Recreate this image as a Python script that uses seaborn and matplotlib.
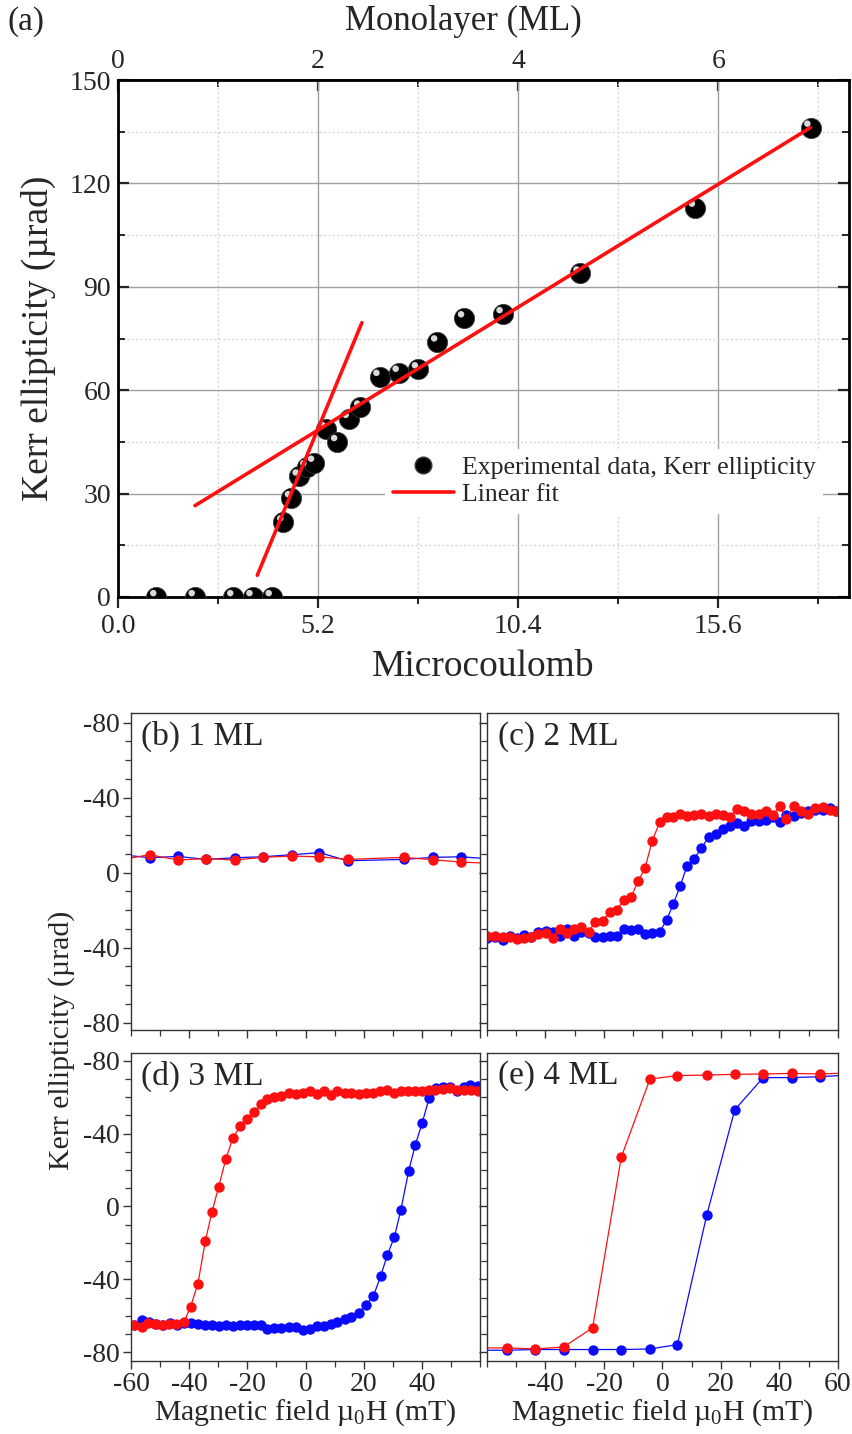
import numpy as np
import pandas as pd
import matplotlib
matplotlib.use("Agg")
import matplotlib.pyplot as plt
import seaborn as sns
from matplotlib import transforms
from matplotlib.ticker import MultipleLocator, FixedLocator
from matplotlib.lines import Line2D

sns.set_theme(style="white")
plt.rcParams['font.family'] = ['Liberation Serif', 'DejaVu Serif']
plt.rcParams['mathtext.fontset'] = 'custom'
plt.rcParams['mathtext.rm'] = 'Liberation Serif'
plt.rcParams['mathtext.default'] = 'regular'
plt.rcParams['axes.unicode_minus'] = False

# ---------------- Panel (a) data ----------------
charge_uC = [1.0, 2.0, 3.0, 3.5, 4.0, 4.3, 4.5, 4.7, 4.9, 5.1, 5.4, 5.7, 6.0, 6.3,
             6.8, 7.3, 7.8, 8.3, 9.0, 10.0, 12.0, 15.0, 18.0]
kerr_urad = [0, 0, 0, 0, 0, 21.7, 28.7, 35.0, 37.7, 39.0, 48.7, 45.0, 51.7, 55.0,
             63.9, 65.1, 66.1, 73.9, 80.9, 82.1, 93.9, 113.0, 136.2]
fit_steep_x = [3.62, 6.34]
fit_steep_y = [6.3, 79.6]
fit_shallow_x = [2.0, 18.0]
fit_shallow_y = [26.5, 136.2]

# ---------------- Panel (b) 1 ML ----------------
b_blue_x = [-63.3, -53.6, -43.9, -34.1, -24.3, -14.7, -4.8, 4.8, 14.5, 33.9, 43.8, 53.5, 63.2]
b_blue_y = [9.6, 8.0, 8.7, 7.1, 8.0, 8.5, 9.6, 10.7, 6.4, 7.1, 8.2, 8.5, 7.4]
b_red_x = [-63.3, -53.6, -43.9, -34.1, -24.3, -14.7, -4.8, 4.8, 14.5, 33.9, 43.8, 53.5, 63.2]
b_red_y = [7.0, 9.6, 6.8, 7.5, 6.8, 8.2, 8.9, 8.5, 7.1, 8.2, 6.9, 5.7, 5.0]

# ---------------- Panel (c) 2 ML ----------------
c_x = [-60.0, -57.2, -54.6, -52.3, -49.7, -47.5, -45.0, -42.4, -39.9, -37.4,
       -35.2, -32.6, -30.1, -27.7, -25.2, -23.0, -20.5, -18.1, -15.7, -13.2,
       -10.7, -8.3, -6.0, -3.5, -1.0, 1.4, 3.7, 6.1, 8.4, 10.8,
       13.3, 15.8, 18.2, 20.7, 23.2, 25.5, 28.0, 30.4, 32.9, 35.4,
       37.8, 40.2, 42.3, 44.8, 47.4, 49.8, 52.3, 54.8, 57.2, 59.4]
c_red_y = [-33.8, -33.8, -34.1, -34.5, -35.6, -35.0, -34.1, -32.9, -32.0, -34.7,
           -30.0, -32.4, -29.9, -29.2, -31.6, -26.1, -25.8, -21.0, -19.9, -14.6,
           -12.8, -4.3, 2.3, 17.1, 26.8, 29.9, 29.5, 31.3, 30.4, 30.8,
           31.1, 30.2, 31.3, 30.8, 29.7, 34.1, 32.9, 31.1, 31.3, 33.1,
           30.8, 35.4, 28.4, 35.6, 33.1, 31.3, 34.7, 34.8, 33.4, 33.1]
c_blue_y = [-35.0, -34.1, -35.9, -33.6, -35.0, -33.2, -34.5, -31.8, -30.9, -31.5,
            -33.8, -30.2, -33.6, -31.8, -32.4, -34.1, -34.1, -33.8, -33.6, -30.2,
            -30.6, -30.2, -32.7, -32.0, -31.8, -25.2, -16.7, -6.9, 3.7, 7.5,
            13.0, 19.2, 20.4, 23.1, 25.1, 26.3, 24.9, 27.6, 27.6, 28.1,
            29.5, 27.2, 30.8, 30.2, 32.0, 33.1, 33.4, 33.4, 34.3, 33.1]

# ---------------- Panel (d) 3 ML ----------------
d_red_x = [-58.9, -56.3, -54.3, -51.7, -49.2, -46.9, -44.4, -41.8, -39.5, -37.0,
           -34.4, -32.2, -29.9, -27.4, -25.0, -22.5, -20.0, -17.6, -15.3, -13.1,
           -10.8, -8.3, -5.8, -3.4, -0.9, 1.4, 4.0, 6.3, 8.8, 11.0,
           13.5, 15.8, 18.4, 20.7, 23.3, 25.6, 28.1, 30.3, 32.8, 35.1,
           37.7, 40.0, 42.3, 44.5, 47.2, 49.7, 52.2, 54.4, 57.0, 59.3]
d_red_y = [-64.9, -66.4, -64.0, -64.6, -64.9, -64.4, -64.6, -63.6, -54.9, -42.4,
           -18.7, -3.3, 10.6, 26.0, 37.5, 43.9, 47.9, 52.1, 56.3, 58.9,
           60.3, 60.7, 62.5, 61.8, 62.2, 63.1, 61.8, 63.6, 61.3, 63.6,
           62.2, 62.2, 61.6, 62.5, 62.5, 63.6, 64.0, 62.5, 63.1, 63.1,
           63.1, 63.6, 64.0, 64.0, 64.4, 64.9, 64.0, 64.0, 64.0, 63.6]
d_blue_x = [-58.9, -56.3, -53.8, -51.5, -49.0, -46.6, -44.1, -41.8, -39.5, -37.0,
            -34.7, -32.2, -29.9, -27.4, -25.0, -22.5, -20.0, -17.6, -15.3, -13.1,
            -10.8, -8.3, -5.8, -3.4, -0.9, 1.4, 4.0, 6.3, 8.8, 11.0,
            13.5, 15.8, 18.4, 20.7, 23.3, 25.8, 28.1, 30.6, 32.8, 35.5,
            37.7, 40.1, 42.5, 44.9, 47.2, 49.7, 52.2, 54.4, 56.7, 59.3]
d_blue_y = [-64.9, -62.2, -63.6, -64.4, -64.9, -64.0, -64.9, -64.0, -64.0, -64.4,
            -65.3, -64.9, -65.8, -64.9, -65.5, -64.9, -64.9, -64.9, -64.9, -67.1,
            -66.7, -66.7, -66.2, -66.4, -67.7, -67.1, -65.8, -65.5, -64.4, -63.6,
            -61.8, -60.7, -58.2, -53.9, -49.4, -38.4, -26.9, -16.5, -1.8, 19.7,
            33.5, 45.7, 59.4, 64.9, 65.5, 65.8, 63.1, 65.5, 66.7, 66.2]

# ---------------- Panel (e) 4 ML ----------------
e_x = [-62.9, -53.1, -43.7, -33.8, -23.9, -14.1, -4.3, 5.1, 15.1, 24.7, 34.4, 44.2, 53.8, 63.4]
e_red_y = [-77.6, -77.6, -78.2, -77.1, -66.6, 27.0, 69.9, 71.8, 72.1, 72.5, 72.7, 73.0, 72.7, 73.2]
e_blue_y = [-78.9, -78.9, -78.5, -78.5, -78.5, -78.5, -78.2, -75.8, -4.9, 53.0, 70.7, 70.7, 71.2, 72.1]

y_tick_vals = [-80, -40, 0, 40, 80]
y_tick_labels = ["-80", "-40", "0", "-40", "-80"]

W, H = 853, 1434
fig = plt.figure(figsize=(W / 100, H / 100), dpi=100)


def px_axes(l, t, r, b):
    return fig.add_axes([l / W, 1 - b / H, (r - l) / W, (b - t) / H])


# ================= Panel (a) =================
ax = px_axes(118, 80, 849, 597)
ax.set_xlim(0, 19.0)
ax.set_ylim(0, 150)
ax.xaxis.set_major_locator(FixedLocator([0, 5.2, 10.4, 15.6]))
ax.xaxis.set_minor_locator(FixedLocator([2.6, 7.8, 13.0, 18.2]))
ax.set_xticklabels(["0.0", "5.2", "10.4", "15.6"])
ax.yaxis.set_major_locator(MultipleLocator(30))
ax.yaxis.set_minor_locator(MultipleLocator(15))
ax.grid(which='major', color='#a0a0a0', lw=1.0, ls='-')
ax.grid(which='minor', color='#cfcfcf', lw=0.9, ls=(0, (1.5, 2)))
ax.set_axisbelow(True)
for s in ax.spines.values():
    s.set_linewidth(2.0)
    s.set_color('black')
ax.tick_params(axis='x', which='major', direction='out', length=8, width=1.6,
               labelsize=20, pad=4, bottom=True, top=False)
ax.tick_params(axis='x', which='minor', direction='out', length=5, width=1.4, bottom=True)
ax.tick_params(axis='y', which='major', direction='in', length=8, width=1.6,
               labelsize=20, left=True, right=True, pad=5)
ax.tick_params(axis='y', which='minor', direction='in', length=5, width=1.4,
               left=True, right=True)

sns.scatterplot(x=charge_uC, y=kerr_urad, color='black', s=210, edgecolor='#3a3a3a',
                linewidth=0.6, ax=ax, zorder=3, legend=False)
hl = transforms.offset_copy(ax.transData, fig=fig, x=-2.3, y=2.8, units='points')
ax.scatter(charge_uC, kerr_urad, s=22, color='#d8d8d8', edgecolor='none', zorder=3.5,
           transform=hl)
sns.lineplot(x=fit_shallow_x, y=fit_shallow_y, color='#ff1010', lw=2.6, ax=ax, zorder=4)
sns.lineplot(x=fit_steep_x, y=fit_steep_y, color='#ff1010', lw=2.6, ax=ax, zorder=4)

handles = [Line2D([], [], ls='none', marker='o', markersize=12, color='black',
                  markeredgecolor='#3a3a3a'),
           Line2D([], [], color='#ff1010', lw=2.6)]
leg = ax.legend(handles, ['Experimental data, Kerr ellipticity', 'Linear fit'],
                loc='upper left', bbox_to_anchor=(0.365, 0.287), fontsize=18.5,
                frameon=True, facecolor='white', edgecolor='none', framealpha=1,
                handlelength=2.4, handletextpad=0.3, labelspacing=0.15,
                borderpad=0.3, borderaxespad=0, fancybox=False)
leg.set_zorder(5)

ax.set_xlabel('Microcoulomb', fontsize=27, labelpad=8)
ax.set_ylabel('')

sec = ax.secondary_xaxis('top', functions=(lambda x: x / 2.6, lambda x: x * 2.6))
sec.xaxis.set_major_locator(FixedLocator([0, 2, 4, 6]))
sec.xaxis.set_minor_locator(FixedLocator([1, 3, 5, 7]))
sec.tick_params(axis='x', which='major', direction='in', length=8, width=1.6,
                labelsize=20, pad=4)
sec.tick_params(axis='x', which='minor', direction='in', length=5, width=1.4)

fig.text(463 / W, 1 - 21 / H, 'Monolayer (ML)', fontsize=25, ha='center', va='center')
fig.text(38 / W, 1 - 338 / H, 'Kerr ellipticity (µrad)', rotation=90, fontsize=27,
         ha='center', va='center')
fig.text(8 / W, 1 - 22 / H, '(a)', fontsize=24, ha='left', va='center')

# ================= Bottom panels =================
panels = [
    ('(b) 1 ML', (131, 713, 480, 1030), (-83.9, 85.2), b_blue_x, b_blue_y, b_red_x, b_red_y, True, False),
    ('(c) 2 ML', (487, 713, 838, 1030), (-83.9, 85.2), c_x, c_blue_y, c_x, c_red_y, False, False),
    ('(d) 3 ML', (131, 1053, 480, 1361), (-84.8, 84.2), d_blue_x, d_blue_y, d_red_x, d_red_y, True, True),
    ('(e) 4 ML', (487, 1053, 838, 1361), (-84.8, 84.2), e_x, e_blue_y, e_x, e_red_y, False, True),
]

for label, (l, t, r, b), ylim, bx, by, rx, ry, show_y, show_x in panels:
    a = px_axes(l, t, r, b)
    sns.lineplot(x=bx, y=by, sort=False, estimator=None, color='#0a0aff', lw=0.9,
                 marker='o', markersize=7.5, markeredgewidth=0, ax=a)
    sns.lineplot(x=rx, y=ry, sort=False, estimator=None, color='#ff1010', lw=0.9,
                 marker='o', markersize=7.5, markeredgewidth=0, ax=a)
    a.set_xlim(-60, 60)
    a.set_ylim(*ylim)
    a.yaxis.set_major_locator(FixedLocator(y_tick_vals))
    a.yaxis.set_minor_locator(MultipleLocator(10))
    a.xaxis.set_minor_locator(MultipleLocator(10))
    if label.startswith('(d)'):
        a.xaxis.set_major_locator(FixedLocator([-60, -40, -20, 0, 20, 40]))
    else:
        a.xaxis.set_major_locator(FixedLocator([-40, -20, 0, 20, 40, 60]))
    a.set_yticklabels(y_tick_labels)
    for s in a.spines.values():
        s.set_linewidth(1.0)
        s.set_color('#333333')
    a.tick_params(axis='both', which='major', direction='out', length=6, width=1.0,
                  color='#333333', labelsize=20, bottom=True, left=True, pad=2)
    a.tick_params(axis='both', which='minor', direction='out', length=4, width=0.9,
                  color='#333333', bottom=True, left=True)
    a.tick_params(axis='y', labelleft=show_y)
    a.tick_params(axis='x', labelbottom=show_x)
    a.set_xlabel('')
    a.set_ylabel('')
    a.text(0.03, 0.975, label, transform=a.transAxes, fontsize=24, ha='left', va='top')
    if show_x:
        a.set_xlabel('Magnetic field µ$_0$H (mT)', fontsize=21.5, labelpad=0)

fig.text(62 / W, 1 - 1040 / H, 'Kerr ellipticity (µrad)', rotation=90, fontsize=21.5,
         ha='center', va='center')

fig.savefig('out.png', dpi=100)
